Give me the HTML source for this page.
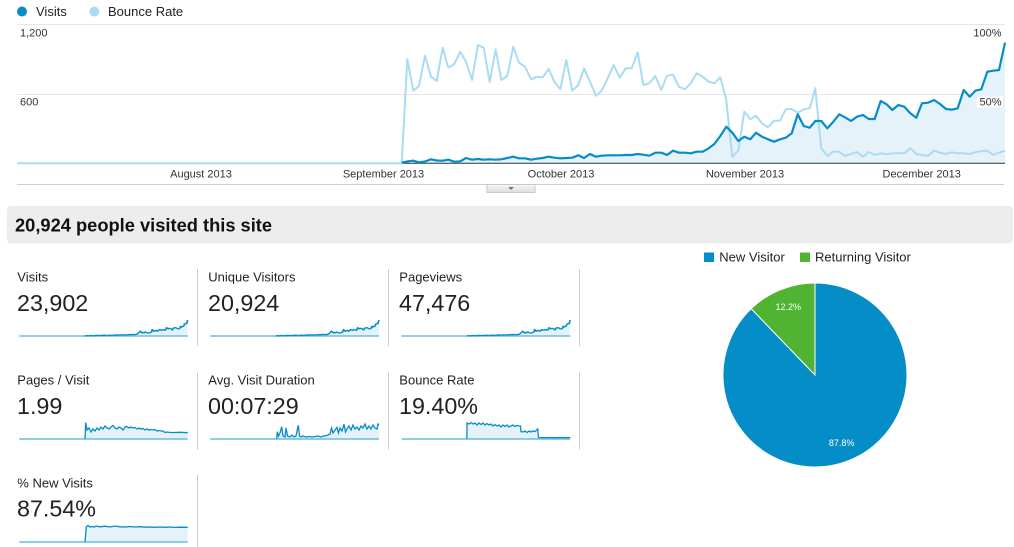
<!DOCTYPE html>
<html><head><meta charset="utf-8">
<style>
html,body{margin:0;padding:0;background:#fff;}
body{width:1014px;height:547px;overflow:hidden;position:relative;}
svg{position:absolute;left:0;top:0;}
text{font-family:"Liberation Sans",Arial,sans-serif;}
</style></head>
<body>
<svg width="1014" height="547" viewBox="0 0 1014 547" xmlns="http://www.w3.org/2000/svg">
<defs>
<linearGradient id="btn" x1="0" y1="0" x2="0" y2="1">
<stop offset="0" stop-color="#f7f7f7"/><stop offset="1" stop-color="#dcdcdc"/>
</linearGradient>
<path id="visits" d="M17,163.3 L401.7,162.7 407.3,161.5 413,160.7 419,162.3 425,161.5 431,159.3 436.7,160.5 442.7,160.7 448.3,159.7 454.3,161.7 460.3,161.3 466,158 472,159.7 478,159 483.7,159.7 489.7,159.3 495.7,159.7 501.3,159.3 507.3,158 513.3,156.7 519,158.3 525,158.3 531,159.7 536.7,158.7 542.7,158 548.7,156.7 554.3,157.7 560.3,158.3 566.3,158 572.3,157.7 578.3,155.3 584,158 590,154 596,156.7 601.7,155.7 607.7,155.3 613.7,155.3 619.7,155.3 625.7,155 631.7,155 637.7,154 643.3,154.7 649.3,155.7 655.3,152.7 661.3,152.7 667,155 673,150.7 679,152.7 685,152.7 690.7,153.3 696.7,151.7 702.7,151.7 708.7,148.3 714.3,144 720.3,136 726.3,126.7 732.3,132.7 738.3,141 744.3,136.7 750.3,139.3 756,132.7 762,136.7 768,139.3 774,141.7 780,139.3 785.7,137.7 791.7,133.3 797.7,114.3 803.7,126 809.7,127.7 815.3,121 821.3,121 827.3,128.3 833.3,121.7 839.3,114.3 845,117.3 851,121 857,116.7 863,115 868.7,119 874.7,119 880.7,101 886.7,104.3 892.3,110 898.3,105 904.3,106.7 910.3,113.3 916.3,117.7 922,103.3 928,102.7 934,100 940,104 946,109 951.7,109.7 957.7,108.3 963.7,90 969.7,96.7 975.3,90.7 981.3,89.3 987.3,71.7 993.3,70.7 999,70 1005,42.7"/>
<path id="visitsArea" d="M17,163.3 L401.7,162.7 407.3,161.5 413,160.7 419,162.3 425,161.5 431,159.3 436.7,160.5 442.7,160.7 448.3,159.7 454.3,161.7 460.3,161.3 466,158 472,159.7 478,159 483.7,159.7 489.7,159.3 495.7,159.7 501.3,159.3 507.3,158 513.3,156.7 519,158.3 525,158.3 531,159.7 536.7,158.7 542.7,158 548.7,156.7 554.3,157.7 560.3,158.3 566.3,158 572.3,157.7 578.3,155.3 584,158 590,154 596,156.7 601.7,155.7 607.7,155.3 613.7,155.3 619.7,155.3 625.7,155 631.7,155 637.7,154 643.3,154.7 649.3,155.7 655.3,152.7 661.3,152.7 667,155 673,150.7 679,152.7 685,152.7 690.7,153.3 696.7,151.7 702.7,151.7 708.7,148.3 714.3,144 720.3,136 726.3,126.7 732.3,132.7 738.3,141 744.3,136.7 750.3,139.3 756,132.7 762,136.7 768,139.3 774,141.7 780,139.3 785.7,137.7 791.7,133.3 797.7,114.3 803.7,126 809.7,127.7 815.3,121 821.3,121 827.3,128.3 833.3,121.7 839.3,114.3 845,117.3 851,121 857,116.7 863,115 868.7,119 874.7,119 880.7,101 886.7,104.3 892.3,110 898.3,105 904.3,106.7 910.3,113.3 916.3,117.7 922,103.3 928,102.7 934,100 940,104 946,109 951.7,109.7 957.7,108.3 963.7,90 969.7,96.7 975.3,90.7 981.3,89.3 987.3,71.7 993.3,70.7 999,70 1005,42.7 L1005,163.3 Z"/>
<path id="visitsS" d="M401.7,162.7 L407.3,161.5 413,160.7 419,162.3 425,161.5 431,159.3 436.7,160.5 442.7,160.7 448.3,159.7 454.3,161.7 460.3,161.3 466,158 472,159.7 478,159 483.7,159.7 489.7,159.3 495.7,159.7 501.3,159.3 507.3,158 513.3,156.7 519,158.3 525,158.3 531,159.7 536.7,158.7 542.7,158 548.7,156.7 554.3,157.7 560.3,158.3 566.3,158 572.3,157.7 578.3,155.3 584,158 590,154 596,156.7 601.7,155.7 607.7,155.3 613.7,155.3 619.7,155.3 625.7,155 631.7,155 637.7,154 643.3,154.7 649.3,155.7 655.3,152.7 661.3,152.7 667,155 673,150.7 679,152.7 685,152.7 690.7,153.3 696.7,151.7 702.7,151.7 708.7,148.3 714.3,144 720.3,136 726.3,126.7 732.3,132.7 738.3,141 744.3,136.7 750.3,139.3 756,132.7 762,136.7 768,139.3 774,141.7 780,139.3 785.7,137.7 791.7,133.3 797.7,114.3 803.7,126 809.7,127.7 815.3,121 821.3,121 827.3,128.3 833.3,121.7 839.3,114.3 845,117.3 851,121 857,116.7 863,115 868.7,119 874.7,119 880.7,101 886.7,104.3 892.3,110 898.3,105 904.3,106.7 910.3,113.3 916.3,117.7 922,103.3 928,102.7 934,100 940,104 946,109 951.7,109.7 957.7,108.3 963.7,90 969.7,96.7 975.3,90.7 981.3,89.3 987.3,71.7 993.3,70.7 999,70 1005,42.7"/>
</defs>

<!-- Legend -->
<circle cx="22" cy="11.5" r="5" fill="#058dc7"/>
<text x="36" y="16" font-size="13" fill="#222">Visits</text>
<circle cx="94.3" cy="11.5" r="5" fill="#a9dcf3"/>
<text x="108" y="16" font-size="13" fill="#222">Bounce Rate</text>

<!-- Gridlines -->
<line x1="17" y1="24.5" x2="1005" y2="24.5" stroke="#e6e6e6" stroke-width="1"/>
<line x1="17" y1="94.5" x2="1005" y2="94.5" stroke="#e6e6e6" stroke-width="1"/>

<!-- Area + lines -->
<use href="#visitsArea" fill="#e6f2fa"/>
<line x1="17" y1="163.3" x2="1005" y2="163.3" stroke="#333" stroke-width="1"/>
<path d="M17,163.3 L401.7,163.3 407.3,59.3 413.3,90.7 419,86 425,55.7 431,76.7 436.7,81 442.7,47.7 448.3,67.7 454.3,64 460.3,51.7 466,61.7 472,80 478,45 483.7,47.7 489.7,82 495.7,49.3 501.3,80 507.3,76 513.3,46.7 519,62.7 525,66.7 531,79.3 536.7,76.7 542.7,77.3 548.7,69 554.3,81.7 560.3,89.3 566.3,60 572.3,90.7 578.3,85 584,68.3 590,81.7 596,95.7 601.7,90.7 607.7,78.3 613.7,65 619.7,77.7 625.7,68.3 631.7,68.3 637.7,52.3 643.3,85 649.3,83.3 655.3,76 661.3,90 667,75.7 673,74.7 679,86.7 685,89.3 690.7,83.3 696.7,73.3 702.7,76.7 708.7,81.7 714.3,83.3 720.3,77.3 726.3,100 732.3,156.7 738.3,150.7 744.3,111.7 750.3,119.3 756,115.7 762,123.3 768,127.3 774,120.7 780,120.7 785.7,109.3 791.7,109 797.7,112.7 803.7,109.3 809.7,108.3 815.3,88.3 821.3,148.3 827.3,156 833.3,151.7 839.3,151.7 845,156 851,154 857,152 863,156.7 868.7,152 874.7,155 880.7,153.3 886.7,154.3 892.3,153.3 898.3,153.3 904.3,153.3 910.3,148.3 916.3,154 922,155 928,156 934,150.7 940,152.7 946,154 951.7,152.3 957.7,153.3 963.7,153.3 969.7,154 975.3,152.3 981.3,151 987.3,150.7 993.3,155 999,152.7 1005,150.7" fill="none" stroke="#a9dcf3" stroke-width="2" stroke-linejoin="round"/>
<use href="#visitsS" fill="none" stroke="#058dc7" stroke-width="2.2" stroke-linejoin="round"/>

<!-- Axis labels -->
<text x="20" y="36.7" font-size="11" fill="#333">1,200</text>
<text x="20" y="105.3" font-size="11" fill="#333">600</text>
<text x="1001.5" y="36.7" font-size="11" fill="#333" text-anchor="end">100%</text>
<rect x="977" y="96.5" width="26" height="11" fill="#fff"/>
<text x="1001.5" y="105.3" font-size="11" fill="#333" text-anchor="end">50%</text>
<text x="201" y="177.3" font-size="11" fill="#333" text-anchor="middle">August 2013</text>
<text x="383.5" y="177.3" font-size="11" fill="#333" text-anchor="middle">September 2013</text>
<text x="561" y="177.3" font-size="11" fill="#333" text-anchor="middle">October 2013</text>
<text x="745" y="177.3" font-size="11" fill="#333" text-anchor="middle">November 2013</text>
<text x="921.7" y="177.3" font-size="11" fill="#333" text-anchor="middle">December 2013</text>

<line x1="17" y1="184.5" x2="1004" y2="184.5" stroke="#cfcfcf" stroke-width="1"/>
<rect x="487" y="184.5" width="48" height="8" fill="url(#btn)" stroke="#c8c8c8" stroke-width="1"/>
<polygon points="508,187 514,187 511,190" fill="#777"/>

<!-- Header box -->
<rect x="7" y="206" width="1006" height="37.5" rx="4" ry="4" fill="#ededed"/>
<text x="15" y="231.7" font-size="18.3" font-weight="bold" fill="#111">20,924 people visited this site</text>

<!-- Separators -->
<g stroke="#cccccc" stroke-width="1">
<line x1="197.5" y1="269" x2="197.5" y2="346"/>
<line x1="388.5" y1="269" x2="388.5" y2="346"/>
<line x1="579.5" y1="269" x2="579.5" y2="346"/>
<line x1="197.5" y1="372.5" x2="197.5" y2="449.5"/>
<line x1="388.5" y1="372.5" x2="388.5" y2="449.5"/>
<line x1="579.5" y1="372.5" x2="579.5" y2="449.5"/>
<line x1="197.5" y1="475" x2="197.5" y2="547"/>
</g>

<!-- Metric labels & values -->
<g fill="#222">
<text x="17.3" y="281.7" font-size="13">Visits</text>
<text x="17" y="311" font-size="23.3">23,902</text>
<text x="208.3" y="281.7" font-size="13">Unique Visitors</text>
<text x="208" y="311" font-size="23.3">20,924</text>
<text x="399.3" y="281.7" font-size="13">Pageviews</text>
<text x="399" y="311" font-size="23.3">47,476</text>

<text x="17.3" y="384.4" font-size="13">Pages / Visit</text>
<text x="17" y="413.8" font-size="23.3">1.99</text>
<text x="208.3" y="384.4" font-size="13">Avg. Visit Duration</text>
<text x="208" y="413.8" font-size="23.3">00:07:29</text>
<text x="399.3" y="384.4" font-size="13">Bounce Rate</text>
<text x="399" y="413.8" font-size="23.3">19.40%</text>

<text x="17.3" y="487.5" font-size="13">% New Visits</text>
<text x="17" y="516.7" font-size="23.3">87.54%</text>
</g>

<!-- Sparklines row1 (derived from visits) -->
<g transform="translate(16.4,314.33) scale(0.1704,0.1327)">
<use href="#visitsArea" fill="#e6f2fa"/>
</g>
<line x1="19.3" y1="336" x2="187.7" y2="336" stroke="#6cbbe4" stroke-width="1.5"/>
<g transform="translate(16.4,314.33) scale(0.1704,0.1327)">
<use href="#visitsS" fill="none" stroke="#058dc7" stroke-width="10" stroke-linejoin="round"/>
</g>

<g transform="translate(207.4,314.33) scale(0.1707,0.1327)">
<use href="#visitsArea" fill="#e6f2fa"/>
</g>
<line x1="210.3" y1="336" x2="379" y2="336" stroke="#6cbbe4" stroke-width="1.5"/>
<g transform="translate(207.4,314.33) scale(0.1707,0.1327)">
<use href="#visitsS" fill="none" stroke="#058dc7" stroke-width="10" stroke-linejoin="round"/>
</g>

<g transform="translate(398.6,314.33) scale(0.1707,0.1327)">
<use href="#visitsArea" fill="#e6f2fa"/>
</g>
<line x1="401.5" y1="336" x2="570.2" y2="336" stroke="#6cbbe4" stroke-width="1.5"/>
<g transform="translate(398.6,314.33) scale(0.1707,0.1327)">
<use href="#visitsS" fill="none" stroke="#058dc7" stroke-width="10" stroke-linejoin="round"/>
</g>

<!-- Pages / Visit -->
<path d="M85,439 L85.7,422.5 87,430 89,428 91,432 93,429 95,431 97,428 99,430 101,427 103,429 105,426 107,428 109,429 111,427 113,425.5 115,428 117,429 119,427 121,428 123,430 125,427 127,426.5 129,428 131,427 133,428 135,427.5 137,429 139,428 141,429 143,428.5 145,430 147,429 149,430 151,429.5 153,430 155,429.5 157,431 159,430.5 161,431 163,431 165,432.5 167,432 170,432.5 175,432.5 180,432.3 187.7,432.7 L187.7,439 Z" fill="#e6f2fa"/>
<line x1="19.3" y1="439" x2="187.7" y2="439" stroke="#6cbbe4" stroke-width="1.5"/>
<path d="M85,439 L85.7,422.5 87,430 89,428 91,432 93,429 95,431 97,428 99,430 101,427 103,429 105,426 107,428 109,429 111,427 113,425.5 115,428 117,429 119,427 121,428 123,430 125,427 127,426.5 129,428 131,427 133,428 135,427.5 137,429 139,428 141,429 143,428.5 145,430 147,429 149,430 151,429.5 153,430 155,429.5 157,431 159,430.5 161,431 163,431 165,432.5 167,432 170,432.5 175,432.5 180,432.3 187.7,432.7" fill="none" stroke="#058dc7" stroke-width="1.3"/>

<!-- Avg Visit Duration -->
<path d="M276.7,439 L277.3,431.7 278.5,436 280,433 281.7,426.7 283,436 285,437 286,428 287.5,436 290,437 292,435 294,437 296,436 298.3,425.3 299.5,436 301,437 303,436 306,437 309,436.5 312,437 315,436.5 318,436 321,437 324,436 327,435.5 330,434 331.5,428 333,433 335,430 337,427.3 338.5,433 340,428 342,431 344,424 345.5,432 347,429 349,426 351,430 353,425 355,429 357,427 359,430 361,426 363,428 365,424 367,429 369,426 371,429 373,425 375,428 377,429 378,424 379,425 L379,439 Z" fill="#e6f2fa"/>
<line x1="210.3" y1="439" x2="379" y2="439" stroke="#6cbbe4" stroke-width="1.5"/>
<path d="M276.7,439 L277.3,431.7 278.5,436 280,433 281.7,426.7 283,436 285,437 286,428 287.5,436 290,437 292,435 294,437 296,436 298.3,425.3 299.5,436 301,437 303,436 306,437 309,436.5 312,437 315,436.5 318,436 321,437 324,436 327,435.5 330,434 331.5,428 333,433 335,430 337,427.3 338.5,433 340,428 342,431 344,424 345.5,432 347,429 349,426 351,430 353,425 355,429 357,427 359,430 361,426 363,428 365,424 367,429 369,426 371,429 373,425 375,428 377,429 378,424 379,425" fill="none" stroke="#058dc7" stroke-width="1.3"/>

<!-- Bounce Rate sparkline -->
<path d="M466.9,439 L467,423 469,424 471,422.5 473,424 475,423 477,425 479,423 481,424.5 483,423 485,425 487,423.5 489,425 491,424 493,426 495,424.5 497,426 499,425 501,427 503,425 505,426.5 507,425 509,427 511,426 513,425 515,426.5 517,425.5 519,426 520.5,426 521,431.7 523,432 525,431 527,432.5 529,431 531,432 533,431 535,431.5 537,430 537.7,428.3 538.5,437.5 545,437.7 550,437.5 555,437.8 560,437.5 565,437.7 570.2,437.6 L570.2,439 Z" fill="#e6f2fa"/>
<line x1="401.8" y1="439" x2="570.2" y2="439" stroke="#6cbbe4" stroke-width="1.5"/>
<path d="M466.9,439 L467,423 469,424 471,422.5 473,424 475,423 477,425 479,423 481,424.5 483,423 485,425 487,423.5 489,425 491,424 493,426 495,424.5 497,426 499,425 501,427 503,425 505,426.5 507,425 509,427 511,426 513,425 515,426.5 517,425.5 519,426 520.5,426 521,431.7 523,432 525,431 527,432.5 529,431 531,432 533,431 535,431.5 537,430 537.7,428.3 538.5,437.5 545,437.7 550,437.5 555,437.8 560,437.5 565,437.7 570.2,437.6" fill="none" stroke="#058dc7" stroke-width="1.3"/>

<!-- % New Visits -->
<path d="M85,542 L86.3,527 88,525.5 90,527 92,526.5 94,527 96,526 100,526.8 105,526.2 110,527 115,526 120,526.8 125,527 130,526.5 135,527 140,526.7 145,527.2 150,527 155,527.3 160,527 165,527.3 170,527 175,527.4 180,527.2 187.7,527.3 L187.7,542 Z" fill="#e6f2fa"/>
<line x1="19.3" y1="542" x2="187.7" y2="542" stroke="#6cbbe4" stroke-width="1.5"/>
<path d="M85,542 L86.3,527 88,525.5 90,527 92,526.5 94,527 96,526 100,526.8 105,526.2 110,527 115,526 120,526.8 125,527 130,526.5 135,527 140,526.7 145,527.2 150,527 155,527.3 160,527 165,527.3 170,527 175,527.4 180,527.2 187.7,527.3" fill="none" stroke="#058dc7" stroke-width="1.3"/>

<!-- Pie legend -->
<rect x="704" y="252.5" width="10" height="9.5" fill="#058dc7"/>
<text x="719.3" y="261.7" font-size="13" fill="#222">New Visitor</text>
<rect x="800" y="252.5" width="10" height="9.5" fill="#50b432"/>
<text x="815" y="261.7" font-size="13" fill="#222">Returning Visitor</text>

<!-- Pie -->
<path d="M815,375 L815,283 A92,92 0 1,1 751.2,308.7 Z" fill="#058dc7" stroke="#fff" stroke-width="1"/>
<path d="M815,375 L751.2,308.7 A92,92 0 0,1 815,283 Z" fill="#50b432" stroke="#fff" stroke-width="1"/>
<text x="788.3" y="310" font-size="9" fill="#fff" text-anchor="middle">12.2%</text>
<text x="841.7" y="446" font-size="9" fill="#fff" text-anchor="middle">87.8%</text>
</svg>
</body></html>
